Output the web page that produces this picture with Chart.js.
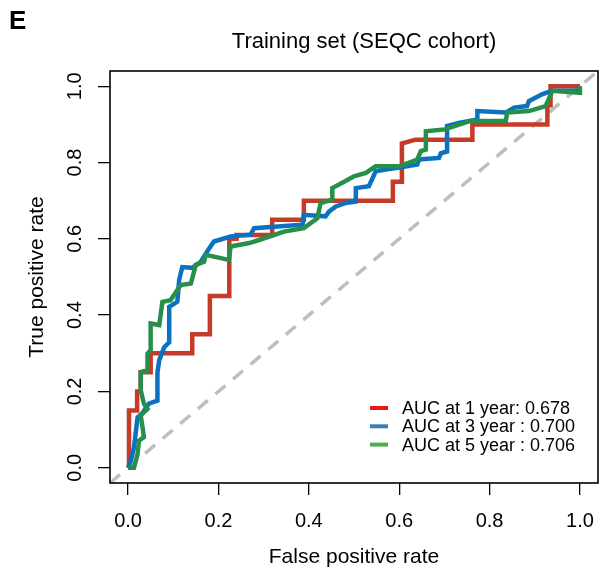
<!DOCTYPE html>
<html>
<head>
<meta charset="utf-8">
<script src="https://cdn.jsdelivr.net/npm/chart.js@4.4.1/dist/chart.umd.min.js"></script>
<style>
  html, body { margin: 0; padding: 0; background: #fff; }
  canvas { display: block; }
</style>
</head>
<body>
<canvas id="rocChart" width="600" height="574"></canvas>
<script>
// ROC curves (false positive rate / true positive rate)
const fpr1 = [0, 0.002, 0.002, 0.02, 0.02, 0.028, 0.028, 0.05, 0.05, 0.142, 0.142, 0.181, 0.181, 0.224, 0.224, 0.24, 0.24, 0.319, 0.319, 0.389, 0.389, 0.586, 0.586, 0.606, 0.606, 0.636, 0.762, 0.762, 0.928, 0.928, 0.935, 0.935, 1.0];
const tpr1 = [0, 0, 0.15, 0.15, 0.2, 0.2, 0.25, 0.25, 0.3, 0.3, 0.35, 0.35, 0.45, 0.45, 0.6, 0.6, 0.61, 0.61, 0.65, 0.65, 0.7, 0.7, 0.75, 0.75, 0.85, 0.86, 0.86, 0.9, 0.9, 0.95, 0.95, 1.0, 1.0];

const fpr3 = [0, 0.006, 0.013, 0.021, 0.031, 0.046, 0.065, 0.065, 0.069, 0.080, 0.091, 0.091, 0.109, 0.113, 0.120, 0.142, 0.161, 0.175, 0.190, 0.227, 0.271, 0.279, 0.386, 0.389, 0.437, 0.445, 0.460, 0.482, 0.504, 0.504, 0.533, 0.548, 0.570, 0.600, 0.640, 0.644, 0.688, 0.692, 0.706, 0.706, 0.732, 0.773, 0.773, 0.836, 0.854, 0.883, 0.887, 0.916, 0.938, 0.997, 1.0];
const tpr3 = [0, 0.018, 0.053, 0.132, 0.142, 0.168, 0.176, 0.25, 0.282, 0.316, 0.329, 0.422, 0.435, 0.492, 0.526, 0.524, 0.540, 0.567, 0.593, 0.606, 0.611, 0.628, 0.637, 0.663, 0.659, 0.672, 0.685, 0.694, 0.698, 0.733, 0.738, 0.777, 0.782, 0.787, 0.795, 0.808, 0.812, 0.824, 0.829, 0.896, 0.904, 0.913, 0.935, 0.931, 0.944, 0.948, 0.961, 0.979, 0.988, 0.988, 1.0];

const fpr5 = [0, 0.013, 0.021, 0.024, 0.035, 0.032, 0.028, 0.043, 0.035, 0.028, 0.028, 0.043, 0.043, 0.050, 0.050, 0.069, 0.076, 0.094, 0.109, 0.117, 0.139, 0.150, 0.168, 0.172, 0.223, 0.227, 0.268, 0.290, 0.345, 0.389, 0.419, 0.426, 0.452, 0.452, 0.474, 0.500, 0.526, 0.548, 0.600, 0.640, 0.648, 0.659, 0.659, 0.701, 0.758, 0.836, 0.839, 0.887, 0.924, 0.939, 0.998, 1.0];
const tpr5 = [0, 0, 0.036, 0.071, 0.080, 0.106, 0.137, 0.154, 0.168, 0.203, 0.251, 0.255, 0.299, 0.308, 0.378, 0.374, 0.435, 0.439, 0.466, 0.479, 0.483, 0.532, 0.540, 0.558, 0.545, 0.580, 0.589, 0.597, 0.619, 0.628, 0.654, 0.694, 0.703, 0.733, 0.747, 0.764, 0.773, 0.790, 0.790, 0.808, 0.830, 0.834, 0.882, 0.887, 0.909, 0.909, 0.931, 0.935, 0.948, 0.988, 0.983, 1.0];

// diagonal reference line y = x, across the whole plot range
const refLine = [-0.04, 1.04];

const xTicks = [0, 0.2, 0.4, 0.6, 0.8, 1.0];
const yTicks = [0, 0.2, 0.4, 0.6, 0.8, 1.0];
const legendLabels = ['AUC at 1 year: 0.678', 'AUC at 3 year : 0.700', 'AUC at 5 year : 0.706'];

const FONT = '"Liberation Sans", Arial, Helvetica, sans-serif';
const lineColours = ['#C63B28', '#0A72C0', '#26904A'];
const legendColours = ['#E41A1C', '#377EB8', '#4DAF4A'];

function toPoints(xs, ys) {
    return xs.map((x, i) => ({ x: x, y: ys[i] }));
}

// frame, panel letter, title and the legend inside the plot
const extrasPlugin = {
    id: 'extras',
    afterDraw(chart) {
        const ctx = chart.ctx;
        const a = chart.chartArea;
        ctx.save();
        ctx.strokeStyle = '#000';
        ctx.lineWidth = 1.6;
        ctx.strokeRect(a.left, a.top, a.right - a.left, a.bottom - a.top);

        ctx.fillStyle = '#000';
        ctx.textBaseline = 'middle';
        ctx.textAlign = 'left';
        ctx.font = 'bold 26px ' + FONT;
        ctx.fillText('E', 9, 22);

        ctx.textAlign = 'center';
        ctx.font = '22px ' + FONT;
        ctx.fillText('Training set (SEQC cohort)', 364, 42);

        ctx.textAlign = 'left';
        ctx.font = '18px ' + FONT;
        for (let i = 0; i < legendLabels.length; i++) {
            const y = 408 + i * 18.3;
            ctx.strokeStyle = legendColours[i];
            ctx.lineWidth = 4;
            ctx.beginPath();
            ctx.moveTo(370, y);
            ctx.lineTo(388, y);
            ctx.stroke();
            ctx.fillText(legendLabels[i], 402, y + 1);
        }
        ctx.restore();
    }
};

function curve(label, xs, ys, colour, order) {
    return {
        label: label,
        data: toPoints(xs, ys),
        borderColor: colour,
        borderWidth: 4.5,
        pointRadius: 0,
        tension: 0,
        fill: false,
        order: order
    };
}

function noEdgePadding(s) {
    s.paddingLeft = 0;
    s.paddingRight = 0;
    s.paddingTop = 0;
    s.paddingBottom = 0;
}

const tickFont = { family: FONT, size: 20 };
const titleFont = { family: FONT, size: 21 };

new Chart(document.getElementById('rocChart'), {
    type: 'line',
    data: {
        datasets: [
            curve(legendLabels[0], fpr1, tpr1, lineColours[0], 3),
            curve(legendLabels[1], fpr3, tpr3, lineColours[1], 2),
            curve(legendLabels[2], fpr5, tpr5, lineColours[2], 1),
            {
                label: 'reference',
                data: toPoints(refLine, refLine),
                borderColor: '#BEBEBE',
                borderDash: [13, 10],
                borderWidth: 3.5,
                pointRadius: 0,
                order: 4
            }
        ]
    },
    options: {
        responsive: false,
        animation: false,
        devicePixelRatio: 1,
        layout: { padding: { top: 71, right: 2, left: 0, bottom: 0 } },
        plugins: {
            legend: { display: false },
            tooltip: { enabled: false }
        },
        scales: {
            x: {
                type: 'linear',
                min: -0.04,
                max: 1.04,
                afterBuildTicks: (s) => { s.ticks = xTicks.map(v => ({ value: v })); },
                afterFit: (s) => { s.height = 91; noEdgePadding(s); },
                grid: { drawOnChartArea: false, tickLength: 12, color: '#000', lineWidth: 1.3 },
                border: { display: false },
                ticks: {
                    color: '#000',
                    font: tickFont,
                    padding: 14,
                    maxRotation: 0,
                    callback: (v) => v.toFixed(1)
                },
                title: {
                    display: true,
                    text: 'False positive rate',
                    color: '#000',
                    font: titleFont,
                    padding: { bottom: 4 }
                }
            },
            y: {
                type: 'linear',
                min: -0.04,
                max: 1.04,
                afterBuildTicks: (s) => { s.ticks = yTicks.map(v => ({ value: v })); },
                afterFit: (s) => { s.width = 110; noEdgePadding(s); },
                grid: { drawOnChartArea: false, tickLength: 12, color: '#000', lineWidth: 1.3 },
                border: { display: false },
                ticks: {
                    color: '#000',
                    font: tickFont,
                    padding: 9,
                    minRotation: 90,
                    maxRotation: 90,
                    crossAlign: 'center',
                    callback: (v) => v.toFixed(1)
                },
                title: {
                    display: true,
                    text: 'True positive rate',
                    color: '#000',
                    font: titleFont,
                    padding: { top: 25 }
                }
            }
        }
    },
    plugins: [extrasPlugin]
});
</script>
</body>
</html>
